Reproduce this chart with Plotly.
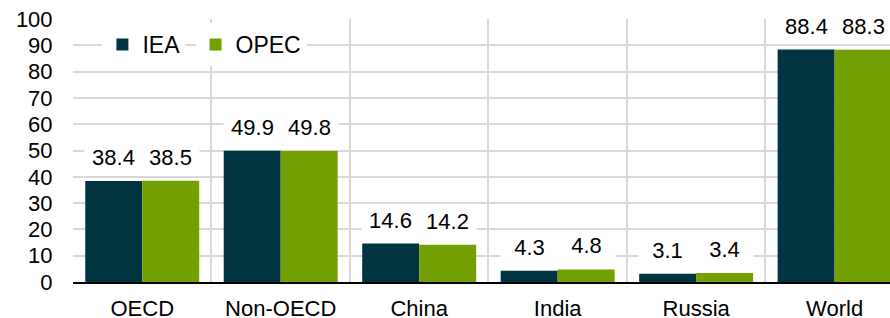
import plotly.graph_objects as go

categories = ["OECD", "Non-OECD", "China", "India", "Russia", "World"]
iea = [38.4, 49.9, 14.6, 4.3, 3.1, 88.4]
opec = [38.5, 49.8, 14.2, 4.8, 3.4, 88.3]
series_names = ["IEA", "OPEC"]
colors = ["#003440", "#72A000"]
y_ticks = list(range(0, 101, 10))

FONT = "Arial, Liberation Sans, sans-serif"

fig = go.Figure()
for name, vals, col, lg in zip(series_names, [iea, opec], colors, ["legend", "legend2"]):
    fig.add_trace(go.Bar(name=name, x=categories, y=vals, legend=lg,
                         marker=dict(color=col, line=dict(width=0))))

# data labels with white boxes
bar_px = 57
for vals, shift in [(iea, -bar_px / 2), (opec, bar_px / 2)]:
    for c, v in zip(categories, vals):
        fig.add_annotation(
            x=c, y=v, xref="x", yref="y", text=f"{v:.1f}", showarrow=False,
            xshift=shift, yshift=9, yanchor="bottom", xanchor="center",
            width=bar_px, height=28, bgcolor="white", borderpad=0,
            font=dict(family=FONT, size=22, color="black"),
        )

legend_style = dict(
    orientation="h", xanchor="left", y=0.985, yanchor="top",
    bgcolor="white", font=dict(family=FONT, size=23, color="black"),
    itemwidth=30,
)
fig.update_layout(
    width=890, height=318,
    margin=dict(l=73, r=0, t=19, b=36),
    paper_bgcolor="white", plot_bgcolor="white",
    barmode="group", bargap=0.177, bargroupgap=0,
    font=dict(family=FONT, size=22, color="black"),
    legend=dict(x=0.036, **legend_style),
    legend2=dict(x=0.150, **legend_style),
    showlegend=True,
)
fig.update_xaxes(
    type="category", range=[-0.5, 5.4], tickson="boundaries", automargin=False,
    showgrid=True, gridcolor="#d9d9d9", gridwidth=2,
    showline=True, linecolor="black", linewidth=2,
    ticks="", ticklabelstandoff=6, ticklabeloverflow="allow",
    tickfont=dict(family=FONT, size=22, color="black"),
)
fig.update_yaxes(
    range=[0, 100], tickvals=y_ticks, ticktext=[str(t) for t in y_ticks], automargin=False,
    showgrid=True, gridcolor="#d9d9d9", gridwidth=2, zeroline=False,
    ticks="outside", ticklen=15, tickcolor="rgba(0,0,0,0)", ticklabeloverflow="allow",
    tickfont=dict(family=FONT, size=22, color="black"),
)

fig.write_html("out.html", config={"displayModeBar": False},
               post_script="document.body.style.margin='0';")
